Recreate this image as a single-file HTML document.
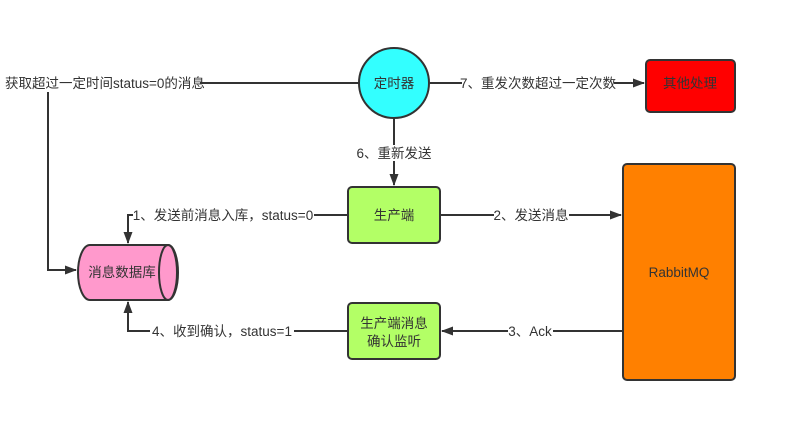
<!DOCTYPE html>
<html><head><meta charset="utf-8"><style>
body{margin:0;background:#fff;}
svg text{font-family:"Liberation Sans","Noto Sans CJK SC",sans-serif;font-size:13.5px;fill:#333;}
</style></head><body>
<svg width="797" height="443" viewBox="0 0 797 443" xmlns="http://www.w3.org/2000/svg">
<defs><marker id="a" markerWidth="12" markerHeight="9" refX="11" refY="4.5" orient="auto" markerUnits="userSpaceOnUse"><path d="M0,0 L12,4.5 L0,9 Z" fill="#333"/></marker></defs>
<g stroke="#333" stroke-width="2" fill="none">
<line x1="200" y1="83" x2="359" y2="83"/>
<polyline points="48,92 48,270 76,270" marker-end="url(#a)"/>
<polyline points="394,118 394,185" marker-end="url(#a)"/>
<line x1="430" y1="83" x2="644" y2="83" marker-end="url(#a)"/>
<polyline points="348,215 128,215 128,243" marker-end="url(#a)"/>
<line x1="440" y1="215" x2="621" y2="215" marker-end="url(#a)"/>
<line x1="623" y1="331" x2="442" y2="331" marker-end="url(#a)"/>
<polyline points="348,331 128,331 128,302" marker-end="url(#a)"/>
</g>
<g fill="#fff">
<rect x="133" y="207" width="181" height="16"/>
<rect x="494" y="207" width="75" height="16"/>
<rect x="508" y="323" width="45" height="16"/>
<rect x="150" y="323" width="144" height="16"/>
<rect x="462" y="75" width="152" height="16"/>
<rect x="355" y="145" width="78" height="16"/>
</g>
<circle cx="394" cy="83" r="35" fill="#33FFFF" stroke="#333" stroke-width="2"/>
<text x="394" y="88" text-anchor="middle">定时器</text>
<rect x="646" y="60" width="89" height="52" rx="4" fill="#FF0000" stroke="#333" stroke-width="2"/>
<text x="690" y="88" text-anchor="middle">其他处理</text>
<rect x="623" y="164" width="112" height="216" rx="4" fill="#FF8000" stroke="#333" stroke-width="2"/>
<text x="679" y="277" text-anchor="middle">RabbitMQ</text>
<rect x="348" y="187" width="92" height="56" rx="4" fill="#B3FF66" stroke="#333" stroke-width="2"/>
<text x="394" y="220" text-anchor="middle">生产端</text>
<rect x="348" y="303" width="92" height="56" rx="4" fill="#B3FF66" stroke="#333" stroke-width="2"/>
<text x="394" y="328" text-anchor="middle">生产端消息</text>
<text x="394" y="346" text-anchor="middle">确认监听</text>
<path d="M90,245 L168,245 A10,27.5 0 0 1 168,300 L90,300 A12,27.5 0 0 1 90,245 Z" fill="#FF99CC" stroke="#333" stroke-width="2"/>
<ellipse cx="168" cy="272.5" rx="9" ry="27.5" fill="#FF99CC" stroke="#333" stroke-width="2"/>
<text x="122" y="277" text-anchor="middle">消息数据库</text>
<text x="5" y="88">获取超过一定时间status=0的消息</text>
<text x="394" y="158" text-anchor="middle">6、重新发送</text>
<text x="538" y="88" text-anchor="middle">7、重发次数超过一定次数</text>
<text x="223" y="220" text-anchor="middle">1、发送前消息入库，status=0</text>
<text x="531" y="220" text-anchor="middle">2、发送消息</text>
<text x="530" y="336" text-anchor="middle">3、Ack</text>
<text x="222" y="336" text-anchor="middle">4、收到确认，status=1</text>
</svg>
</body></html>
